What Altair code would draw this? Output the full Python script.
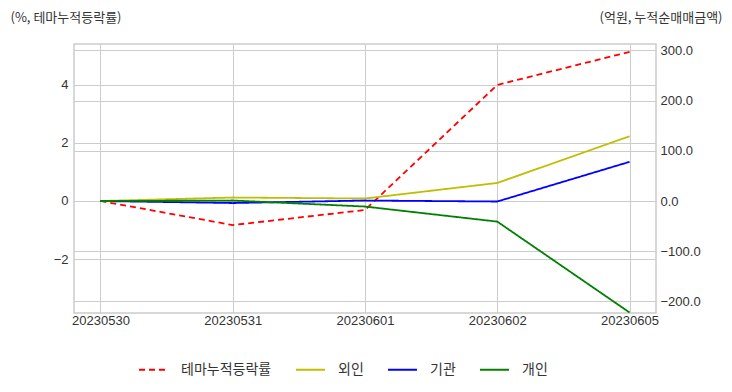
import altair as alt
import pandas as pd

dates = ["20230530", "20230531", "20230601", "20230602", "20230605"]
theme_rate = [0.0, -0.83, -0.31, 4.0, 5.14]
foreign = [0.0, 7.0, 5.0, 36.0, 129.0]
institution = [0.0, -4.0, 1.0, -1.0, 78.0]
individual = [0.0, 1.0, -11.0, -41.0, -222.0]

series_names = ["테마누적등락률", "외인", "기관", "개인"]
series_colors = ["#ff0000", "#bfbf00", "#0000ff", "#008000"]
series_dash = [[6, 4], [1, 0], [1, 0], [1, 0]]

font = "Noto Sans CJK KR"
num_font = "Liberation Sans"

left_df = pd.DataFrame({"date": dates, "value": theme_rate, "series": series_names[0]})
rows = []
for name, vals in zip(series_names[1:], [foreign, institution, individual]):
    for d, v in zip(dates, vals):
        rows.append({"date": d, "value": v, "series": name})
right_df = pd.DataFrame(rows)

x_enc = alt.X("date:O", sort=dates, scale=alt.Scale(type="point", padding=0.2),
              axis=alt.Axis(title=None, labelAngle=0, grid=True, gridColor="#cccccc",
                            domain=False, ticks=False, labelFontSize=13, labelColor="#333333",
                            labelFont=num_font, labelPadding=1))

legend_kw = dict(title=None, orient="none", direction="horizontal",
                 legendX=64, legendY=310, symbolType="stroke",
                 symbolSize=840, symbolStrokeWidth=2,
                 labelFontSize=14, labelFont=font, labelColor="#333333",
                 columnPadding=20, labelOffset=12)

color_enc = alt.Color("series:N", scale=alt.Scale(domain=series_names, range=series_colors),
                      legend=alt.Legend(**legend_kw))
dash_enc = alt.StrokeDash("series:N", scale=alt.Scale(domain=series_names, range=series_dash),
                          legend=alt.Legend(**legend_kw))

title_kw = dict(titleAngle=0, titleY=-27, titleBaseline="middle", titleFont=font,
                titleFontSize=13, titleFontWeight="normal", titleColor="#333333")

left = alt.Chart(left_df).mark_line(strokeWidth=1.8, clip=True).encode(
    x=x_enc,
    y=alt.Y("value:Q", scale=alt.Scale(domain=[-3.86, 5.41], nice=False, zero=False),
            axis=alt.Axis(orient="left", values=[-2, 0, 2, 4], title="(%, 테마누적등락률)",
                          titleX=-64, titleAlign="left", **title_kw,
                          grid=True, gridColor="#cccccc", domain=False, ticks=False,
                          labelFontSize=13, labelFont=num_font, labelColor="#333333",
                          labelPadding=6)),
    color=color_enc,
    strokeDash=dash_enc,
)

right = alt.Chart(right_df).mark_line(strokeWidth=1.8, clip=True).encode(
    x=x_enc,
    y=alt.Y("value:Q", scale=alt.Scale(domain=[-223, 312.7], nice=False, zero=False),
            axis=alt.Axis(orient="right", values=[-200, -100, 0, 100, 200, 300], format=".1f",
                          title="(억원, 누적순매매금액)",
                          titleX=66, titleAlign="right", **title_kw,
                          grid=True, gridColor="#cccccc", domain=False, ticks=False,
                          labelFontSize=13, labelFont=num_font, labelColor="#333333",
                          labelPadding=4)),
    color=color_enc,
    strokeDash=dash_enc,
)

chart = alt.layer(left, right).resolve_scale(y="independent").properties(
    width=582, height=269,
    autosize=alt.AutoSizeParams(type="none"),
    padding={"left": 66, "top": 36, "right": 66, "bottom": 74},
).configure_view(stroke="#cccccc", strokeWidth=1.5)

chart.save("out.html", embed_options={"renderer": "svg", "actions": False})
